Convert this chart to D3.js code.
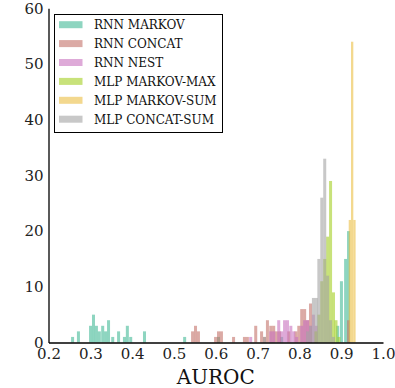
<!DOCTYPE html>
<html><head><meta charset="utf-8">
<script src="https://cdn.jsdelivr.net/npm/d3@7"></script>
<style>body{margin:0;background:#fff}svg{display:block}</style>
</head><body><svg id="c" width="395" height="388"></svg>
<script>
const seriesNames = ["RNN MARKOV","RNN CONCAT","RNN NEST","MLP MARKOV-MAX","MLP MARKOV-SUM","MLP CONCAT-SUM"];
const seriesColors = ["#43b996","#c37169","#c871be","#a3cf21","#ebbe43","#a3a3a3"];
const binWidths = [0.0072,0.0072,0.0072,0.0072,0.0055,0.0072];
// bin left edges and counts for each series
const rnnMarkovBins   = [0.254,0.268,0.297,0.304,0.311,0.318,0.326,0.333,0.340,0.350,0.364,0.378,0.385,0.393,0.426,0.522,0.603,0.754,0.888,0.897,0.907,0.914];
const rnnMarkovCounts = [1,2,3,5,3,2,3,2,4,1,2,1,3,1,2,1,1,1,3,11,15,20];
const rnnConcatBins   = [0.541,0.548,0.555,0.596,0.603,0.610,0.639,0.665,0.672,0.692,0.706,0.713,0.720,0.728,0.735,0.742,0.749,0.771,0.788,0.795,0.802,0.809,0.816,0.823,0.914];
const rnnConcatCounts = [2,3,2,1,2,2,1,1,1,3,2,1,4,3,3,2,2,2,2,3,6,6,4,7,4];
const rnnNestBins     = [0.680,0.728,0.735,0.747,0.754,0.761,0.768,0.776,0.783,0.790,0.802,0.809,0.816,0.823,0.830,0.837];
const rnnNestCounts   = [1,2,2,4,2,4,4,3,2,1,3,4,4,3,5,3];
const mlpMaxBins      = [0.836,0.843,0.850,0.857,0.864,0.871,0.878,0.884,0.891];
const mlpMaxCounts    = [2,5,11,15,19,29,9,4,1];
const mlpSumBins      = [0.918,0.9235,0.929];
const mlpSumCounts    = [22,54,22];
const mlpConcatBins   = [0.713,0.816,0.823,0.830,0.837,0.843,0.850,0.857,0.864,0.871,0.878];
const mlpConcatCounts = [1,2,3,8,8,15,26,33,12,4,1];
const xTicks = [0.2,0.3,0.4,0.5,0.6,0.7,0.8,0.9,1.0];
const yTicks = [0,10,20,30,40,50,60];

const allBins = [rnnMarkovBins,rnnConcatBins,rnnNestBins,mlpMaxBins,mlpSumBins,mlpConcatBins];
const allCounts = [rnnMarkovCounts,rnnConcatCounts,rnnNestCounts,mlpMaxCounts,mlpSumCounts,mlpConcatCounts];

const svg = d3.select("#c");
const x = d3.scaleLinear().domain([0.2,1.0]).range([48.5,383]);
const y = d3.scaleLinear().domain([0,60]).range([342.5,8.3]);
const font = "'DejaVu Serif', serif";

seriesNames.forEach((name,i)=>{
  const data = allBins[i].map((b,j)=>({b, c: allCounts[i][j]}));
  svg.append("g").selectAll("rect").data(data).enter().append("rect")
    .attr("x", d=>x(d.b))
    .attr("width", d=>x(d.b+binWidths[i])-x(d.b))
    .attr("y", d=>y(d.c))
    .attr("height", d=>y(0)-y(d.c))
    .attr("fill", seriesColors[i])
    .attr("fill-opacity", 0.6);
});

const xa = svg.append("g").attr("transform","translate(0,342.5)")
  .call(d3.axisBottom(x).tickValues(xTicks).tickFormat(d3.format(".1f")).tickSize(0).tickPadding(6));
const ya = svg.append("g").attr("transform","translate(48.5,0)")
  .call(d3.axisLeft(y).tickValues(yTicks).tickSize(0).tickPadding(5));
[xa,ya].forEach(a=>{
  a.select(".domain").attr("stroke","#000").attr("stroke-width",1.3);
  a.selectAll("text").attr("font-family",font).attr("font-size",15).attr("fill","#222");
});

svg.append("text").attr("x",215.8).attr("y",384).attr("text-anchor","middle")
  .attr("font-family",font).attr("font-size",20).attr("fill","#111").text("AUROC");

const lg = svg.append("g");
lg.append("rect").attr("x",54.5).attr("y",14.5).attr("width",168).attr("height",118)
  .attr("fill","#fff").attr("stroke","#000").attr("stroke-width",1);
seriesNames.forEach((name,i)=>{
  const cy = 24.7 + i*18.9;
  lg.append("rect").attr("x",59).attr("y",cy-3.5).attr("width",23.5).attr("height",7)
    .attr("fill",seriesColors[i]).attr("fill-opacity",0.6);
  lg.append("text").attr("x",94).attr("y",cy+4.4).attr("font-family",font).attr("font-size",12)
    .attr("fill","#111").text(name);
});
</script></body></html>
